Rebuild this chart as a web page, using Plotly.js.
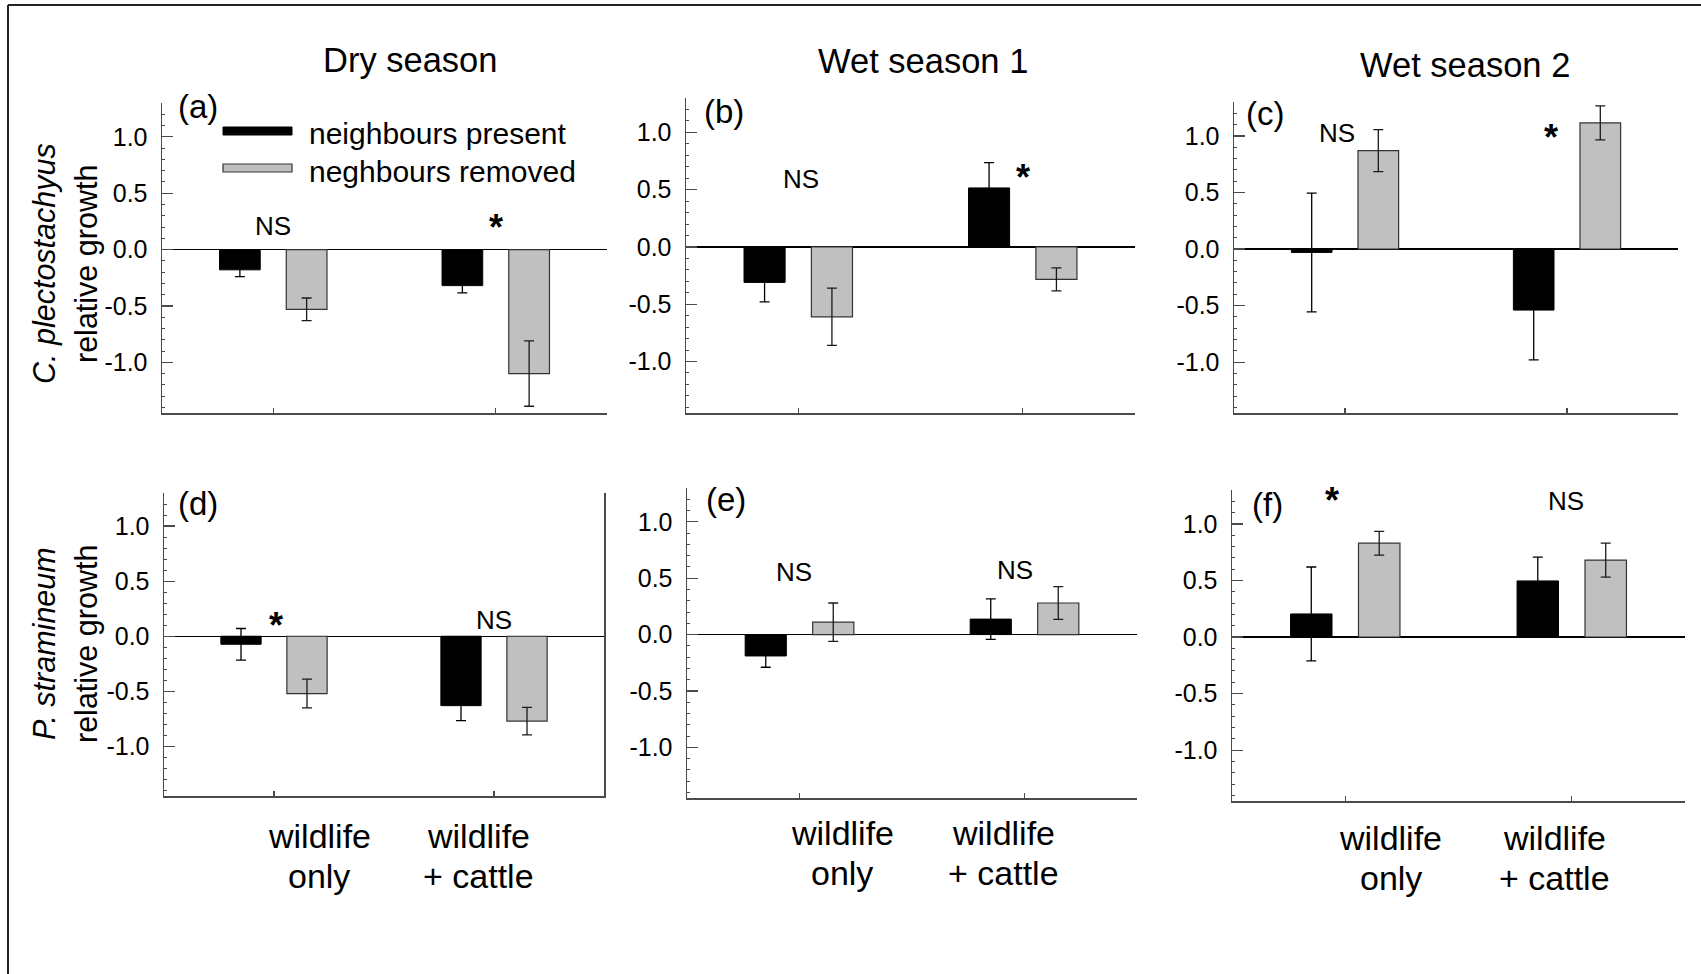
<!DOCTYPE html>
<html>
<head>
<meta charset="utf-8">
<script src="https://cdn.plot.ly/plotly-3.0.1.min.js"></script>
<style>html,body{margin:0;padding:0;background:#fff;}#chart{width:1701px;height:974px;}</style>
</head>
<body>
<div id="chart"></div>
<script>
// ---------------- data ----------------
const categories = ["wildlife only", "wildlife + cattle"];
const categoryLabels = [["wildlife", "only"], ["wildlife", "+ cattle"]];
const seriesNames = ["neighbours present", "neghbours removed"];
const columnTitles = ["Dry season", "Wet season 1", "Wet season 2"];
const panelLetters = ["(a)", "(b)", "(c)", "(d)", "(e)", "(f)"];
const rowSpecies = ["C. plectostachyus", "P. stramineum"];
const rowMeasure = "relative growth";
const yTickVals = [-1, -0.5, 0, 0.5, 1];
const yTickText = ["-1.0", "-0.5", "0.0", "0.5", "1.0"];

// (a) Dry season, C. plectostachyus
const aPresent = [-0.18, -0.32];   const aPresentErr = [0.06, 0.065];
const aRemoved = [-0.53, -1.10];   const aRemovedErr = [0.10, 0.29];
// (b) Wet season 1, C. plectostachyus
const bPresent = [-0.31, 0.515];   const bPresentErr = [0.17, 0.22];
const bRemoved = [-0.61, -0.283];  const bRemovedErr = [0.25, 0.10];
// (c) Wet season 2, C. plectostachyus
const cPresent = [-0.03, -0.54];   const cPresentErr = [0.525, 0.44];
const cRemoved = [0.87, 1.115];    const cRemovedErr = [0.186, 0.15];
// (d) Dry season, P. stramineum
const dPresent = [-0.073, -0.63];  const dPresentErr = [0.143, 0.135];
const dRemoved = [-0.52, -0.77];   const dRemovedErr = [0.13, 0.125];
// (e) Wet season 1, P. stramineum
const ePresent = [-0.19, 0.137];   const ePresentErr = [0.10, 0.18];
const eRemoved = [0.11, 0.28];     const eRemovedErr = [0.17, 0.145];
// (f) Wet season 2, P. stramineum
const fPresent = [0.204, 0.496];   const fPresentErr = [0.415, 0.21];
const fRemoved = [0.83, 0.68];     const fRemovedErr = [0.105, 0.15];

// significance labels per panel (wildlife only, wildlife + cattle)
const aSig = ["NS", "*"];
const bSig = ["NS", "*"];
const cSig = ["NS", "*"];
const dSig = ["*", "NS"];
const eSig = ["NS", "NS"];
const fSig = ["*", "NS"];

// ---------------- layout helpers ----------------
const W = 1701, H = 974;
const px = v => v / W;
const py = v => 1 - v / H;
const FONT = "Liberation Sans, Arial, Helvetica, sans-serif";
const AXIS_COLOR = "#4a4a4a";

const panels = [
  {pres: aPresent, presErr: aPresentErr, rem: aRemoved, remErr: aRemovedErr, sig: aSig,
   box: [162, 607, 103, 413], sigPos: [[0, 0.21], [1, 0.20]], letter: [198, 106]},
  {pres: bPresent, presErr: bPresentErr, rem: bRemoved, remErr: bRemovedErr, sig: bSig,
   box: [686, 1135, 98, 413], sigPos: [[0.01, 0.59], [1.0, 0.61]], letter: [724, 111]},
  {pres: cPresent, presErr: cPresentErr, rem: cRemoved, remErr: cRemovedErr, sig: cSig,
   box: [1234, 1678, 102, 413], sigPos: [[-0.036, 1.03], [0.93, 0.99]], letter: [1265, 113]},
  {pres: dPresent, presErr: dPresentErr, rem: dRemoved, remErr: dRemovedErr, sig: dSig,
   box: [164, 604, 493, 796], sigPos: [[0.007, 0.10], [1.0, 0.15]], letter: [198, 503], mirror: true,
   catY: [836, 876], catX: [0.206, 0.93]},
  {pres: ePresent, presErr: ePresentErr, rem: eRemoved, remErr: eRemovedErr, sig: eSig,
   box: [687, 1137, 488, 798], sigPos: [[-0.024, 0.555], [0.957, 0.57]], letter: [726, 500],
   catY: [833, 873], catX: [0.189, 0.907]},
  {pres: fPresent, presErr: fPresentErr, rem: fRemoved, remErr: fRemovedErr, sig: fSig,
   box: [1232, 1685, 490, 801], sigPos: [[-0.059, 1.21], [0.974, 1.20]], letter: [1267, 504],
   catY: [838, 878], catX: [0.201, 0.925]}
];

const traces = [];
const layout = {
  width: W, height: H,
  margin: {l: 0, r: 0, t: 0, b: 0},
  paper_bgcolor: "#fff", plot_bgcolor: "rgba(0,0,0,0)",
  showlegend: false,
  barmode: "group", bargap: 0.40, bargroupgap: 0.39,
  font: {family: FONT, color: "#000"},
  annotations: [], shapes: []
};

panels.forEach((p, i) => {
  const n = i === 0 ? "" : String(i + 1);
  const xa = "x" + n, ya = "y" + n;
  const [x0, x1, y0, y1] = p.box;
  traces.push({
    type: "bar", name: seriesNames[0], x: categories, y: p.pres, xaxis: xa, yaxis: ya,
    marker: {color: "#000", line: {color: "#000", width: 1}},
    error_y: {type: "data", array: p.presErr, visible: true, color: "#000", thickness: 1.3, width: 5},
    hoverinfo: "skip"
  });
  traces.push({
    type: "bar", name: seriesNames[1], x: categories, y: p.rem, xaxis: xa, yaxis: ya,
    marker: {color: "#c0c0c0", line: {color: "#333", width: 1.2}},
    error_y: {type: "data", array: p.remErr, visible: true, color: "#1a1a1a", thickness: 1.3, width: 5},
    hoverinfo: "skip"
  });
  layout["xaxis" + n] = {
    domain: [px(x0), px(x1)], anchor: ya, type: "category", range: [-0.5, 1.5],
    showline: true, linecolor: AXIS_COLOR, linewidth: 1.5,
    ticks: "inside", ticklen: 5, tickcolor: AXIS_COLOR, tickwidth: 1.2,
    showticklabels: false, showgrid: false, zeroline: false, fixedrange: true
  };
  layout["yaxis" + n] = {
    domain: [py(y1), py(y0)], anchor: xa, range: [-1.45, 1.30],
    showline: true, linecolor: AXIS_COLOR, linewidth: 1.5, mirror: !!p.mirror,
    ticks: "inside", ticklen: 11, tickcolor: AXIS_COLOR, tickwidth: 1.2,
    tickvals: yTickVals, ticktext: yTickText, ticklabelstandoff: 8,
    tickfont: {family: FONT, size: 25, color: "#000"},
    minor: {dtick: 0.1, ticks: "inside", ticklen: 3, tickcolor: AXIS_COLOR, tickwidth: 1, showgrid: false},
    showgrid: false, zeroline: true, zerolinecolor: "#000", zerolinewidth: 1.3, fixedrange: true
  };
  // significance labels
  p.sig.forEach((s, k) => {
    const star = s === "*";
    layout.annotations.push({
      xref: xa, yref: ya, x: p.sigPos[k][0], y: p.sigPos[k][1], text: star ? "<b>*</b>" : s,
      showarrow: false, xanchor: "center", yanchor: "middle",
      font: {family: FONT, size: star ? 36 : 26, color: "#000"}
    });
  });
  // panel letter
  layout.annotations.push({
    xref: "paper", yref: "paper", x: px(p.letter[0]), y: py(p.letter[1]), text: panelLetters[i],
    showarrow: false, xanchor: "center", yanchor: "middle", font: {family: FONT, size: 33, color: "#000"}
  });
  // category labels (bottom row only), one annotation per text line
  if (p.catY) {
    categoryLabels.forEach((lines, k) => {
      lines.forEach((txt, li) => {
        layout.annotations.push({
          xref: xa, yref: "paper", x: p.catX[k], y: py(p.catY[li]), text: txt,
          showarrow: false, xanchor: "center", yanchor: "middle",
          font: {family: FONT, size: 34, color: "#000"}
        });
      });
    });
  }
});

// column titles
[[410, 60], [923, 61], [1465, 65]].forEach((pos, k) => {
  layout.annotations.push({
    xref: "paper", yref: "paper", x: px(pos[0]), y: py(pos[1]), text: columnTitles[k],
    showarrow: false, xanchor: "center", yanchor: "middle", font: {family: FONT, size: 34.5, color: "#000"}
  });
});

// row (y-axis) titles
[264, 644].forEach((cy, r) => {
  layout.annotations.push({
    xref: "paper", yref: "paper", x: px(44), y: py(cy), text: "<i>" + rowSpecies[r] + "</i>",
    textangle: -90, showarrow: false, xanchor: "center", yanchor: "middle",
    font: {family: FONT, size: 30.5, color: "#000"}
  });
  layout.annotations.push({
    xref: "paper", yref: "paper", x: px(86), y: py(cy), text: rowMeasure,
    textangle: -90, showarrow: false, xanchor: "center", yanchor: "middle",
    font: {family: FONT, size: 30.5, color: "#000"}
  });
});

// legend (drawn in panel a)
layout.shapes.push({type: "rect", xref: "paper", yref: "paper",
  x0: px(223), x1: px(292), y0: py(135), y1: py(127), fillcolor: "#000", line: {color: "#000", width: 1}});
layout.shapes.push({type: "rect", xref: "paper", yref: "paper",
  x0: px(223), x1: px(292), y0: py(172), y1: py(164), fillcolor: "#c0c0c0", line: {color: "#333", width: 1.2}});
[[133, 0], [171.5, 1]].forEach(([cy, k]) => {
  layout.annotations.push({
    xref: "paper", yref: "paper", x: px(307), y: py(cy), text: seriesNames[k],
    showarrow: false, xanchor: "left", yanchor: "middle", font: {family: FONT, size: 30, color: "#000"}
  });
});

// figure frame (top and left edges)
layout.shapes.push({type: "line", xref: "paper", yref: "paper", x0: px(8), x1: 1, y0: py(5), y1: py(5),
  line: {color: "#222", width: 2}});
layout.shapes.push({type: "line", xref: "paper", yref: "paper", x0: px(8), x1: px(8), y0: py(5), y1: 0,
  line: {color: "#222", width: 2}});

Plotly.newPlot("chart", traces, layout, {staticPlot: true, displayModeBar: false});
</script>
</body>
</html>
